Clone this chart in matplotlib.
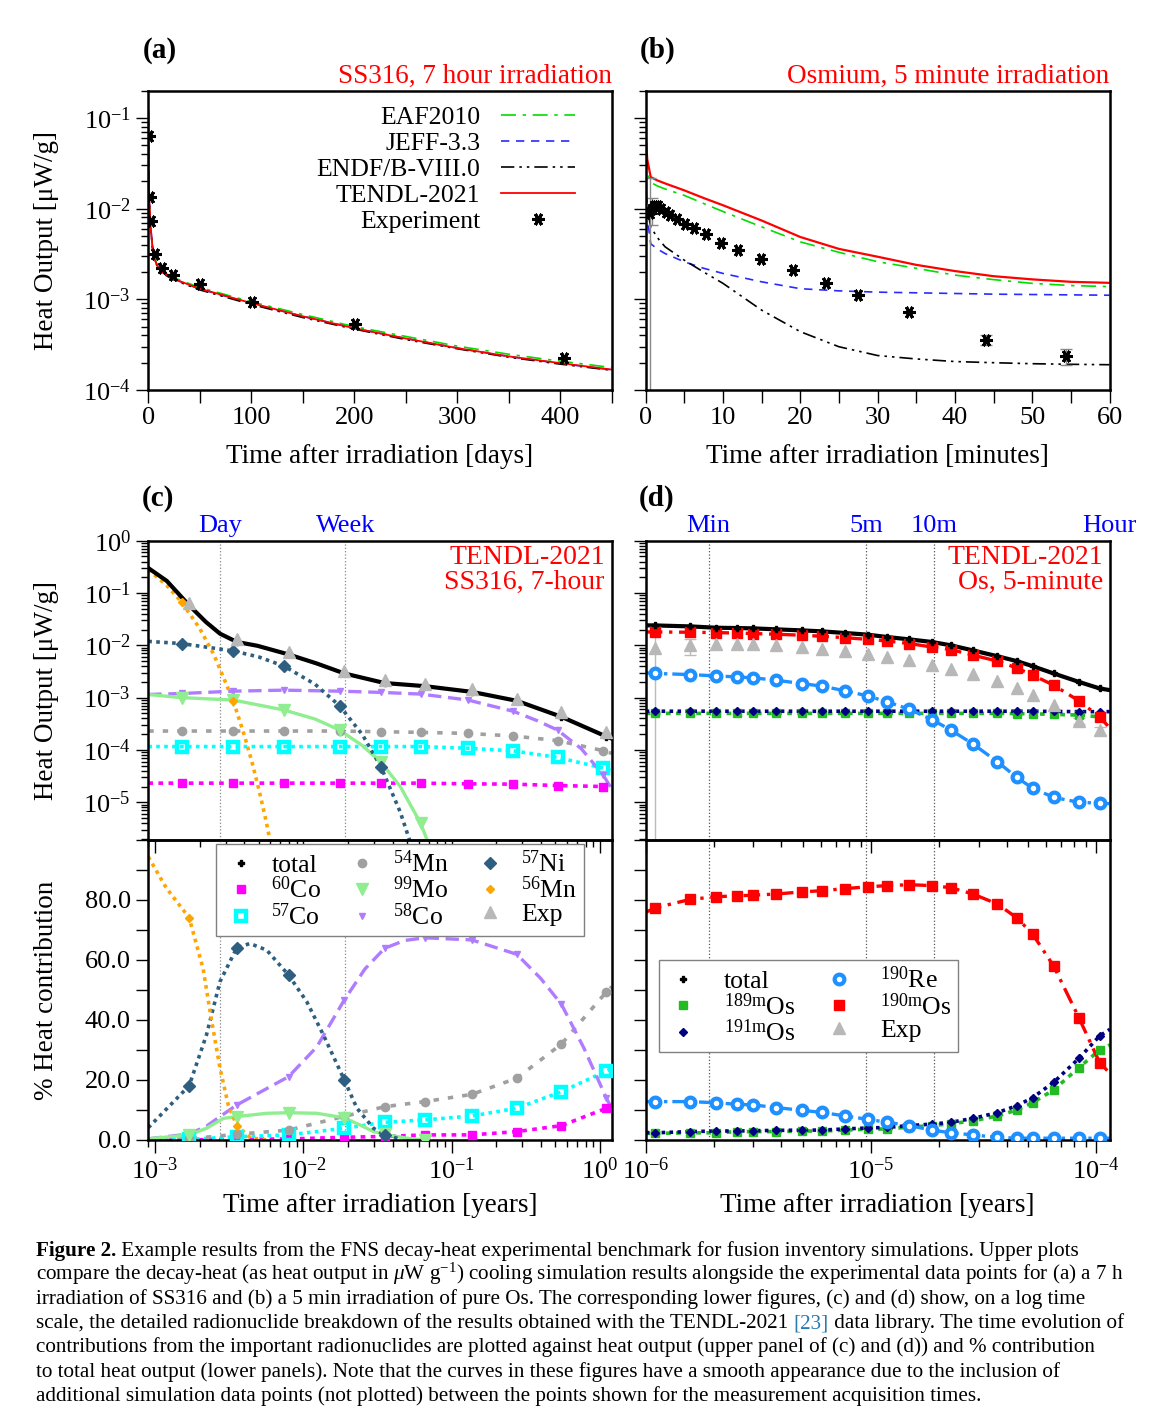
import numpy as np
import matplotlib
matplotlib.use('Agg')
import matplotlib.pyplot as plt
from matplotlib.lines import Line2D
from matplotlib.ticker import MultipleLocator, FormatStrFormatter, LogLocator, NullFormatter
import matplotlib.transforms as mtransforms

plt.rcParams['font.family'] = ['Liberation Serif', 'DejaVu Serif']
plt.rcParams['mathtext.fontset'] = 'custom'
plt.rcParams['mathtext.rm'] = 'Liberation Serif'
plt.rcParams['mathtext.it'] = 'Liberation Serif:italic'
plt.rcParams['mathtext.bf'] = 'Liberation Serif:bold'

# ---------------- (a) SS316, 7 hour irradiation ----------------
ss_days = [0, 0.3, 1, 2.3, 4, 6.5, 10, 13, 23.6, 49, 100, 150, 200, 250, 300, 350, 400, 450]
tendl_a = [0.12, 0.03, 0.012, 0.0063, 0.0038, 0.0027, 0.0022, 0.0020, 0.0017, 0.00132, 0.00091,
           0.00065, 0.00048, 0.00037, 0.00029, 0.000235, 0.000198, 0.000168]
eaf_a = [0.12, 0.031, 0.0123, 0.0065, 0.0039, 0.0028, 0.00226, 0.00205, 0.00175, 0.00136, 0.00094,
         0.00068, 0.0005, 0.00039, 0.000305, 0.000248, 0.000208, 0.000177]
jeff_a = [0.12, 0.03, 0.012, 0.0063, 0.0038, 0.0027, 0.0022, 0.0020, 0.00169, 0.00131, 0.0009,
          0.00065, 0.00048, 0.00037, 0.00029, 0.000234, 0.000196, 0.000167]
endf_a = [0.115, 0.029, 0.0117, 0.0062, 0.0037, 0.00265, 0.00215, 0.00196, 0.00166, 0.00128, 0.00088,
          0.00063, 0.00047, 0.00036, 0.000285, 0.00023, 0.000193, 0.000165]
ss_exp_days = [0.62, 1.3, 2.9, 6.9, 12.9, 24.0, 49.9, 100.4, 201, 404]
ss_exp_heat = [0.064, 0.0135, 0.0073, 0.0032, 0.0022, 0.00186, 0.00147, 0.00094, 0.00053, 0.000223]

# ---------------- (b) Osmium, 5 minute irradiation ----------------
os_min = [0, 0.2, 0.65, 1.5, 2.5, 5, 7.5, 10, 15, 20, 25, 30, 35, 40, 45, 50, 55, 60]
tendl_b = [0.065, 0.035, 0.0223, 0.0205, 0.019, 0.0159, 0.0131, 0.0109, 0.0074, 0.00487, 0.0036,
           0.00295, 0.0024, 0.00205, 0.0018, 0.00166, 0.00156, 0.00152]
eaf_b = [0.04, 0.025, 0.0195, 0.0178, 0.0165, 0.014, 0.0114, 0.0093, 0.0063, 0.0043, 0.0033,
         0.0026, 0.0022, 0.00185, 0.00165, 0.0015, 0.00142, 0.00138]
jeff_b = [0.03, 0.008, 0.0041, 0.0036, 0.0032, 0.00259, 0.0022, 0.00193, 0.00156, 0.00131, 0.00124,
          0.0012, 0.00118, 0.00116, 0.00114, 0.00113, 0.00112, 0.00111]
endf_b = [0.02, 0.01, 0.0063, 0.0048, 0.0038, 0.0027, 0.0020, 0.0015, 0.00076, 0.00044, 0.0003,
          0.00024, 0.00022, 0.000206, 0.0002, 0.000195, 0.000192, 0.00019]
os_exp_min = [0.58, 0.83, 1.08, 1.34, 1.58, 2.0, 2.59, 3.18, 4.04, 5.08, 6.21, 7.78, 9.79, 11.9,
              14.9, 19.1, 23.3, 27.4, 34.0, 44.0, 54.4]
os_exp_heat = [0.0090, 0.0100, 0.0107, 0.0107, 0.0106, 0.0100, 0.0093, 0.0085, 0.0077, 0.0067, 0.0061,
               0.0052, 0.0042, 0.0035, 0.0028, 0.0021, 0.00152, 0.00113, 0.00072, 0.00036, 0.00024]
os_bar_idx = [0, 1, 19, 20]
os_bar_lo = [1e-6, 0.0066, 0.00031, 0.00019]
os_bar_hi = [0.022, 0.013, 0.00040, 0.00028]

# ---------------- (c) SS316 nuclide breakdown (years) ----------------
t_nuc_c = [0.00151, 0.003365, 0.00741, 0.01754, 0.03342, 0.06166, 0.1288, 0.2594, 0.5176, 1.052]
nan = np.nan
total_c = [0.058, 0.0116, 0.0067, 0.0029, 0.0019, 0.00166, 0.00129, 0.00087, 0.00043, 0.00018]
total_c_xt = [0.0009, 0.0012, 0.0022, 0.00274, 0.0049, 0.0123, 1.2]
total_c_xv = [0.30, 0.17, 0.028, 0.0167, 0.0098, 0.0045, 0.000165]
co60_c = [2.32e-5, 2.32e-5, 2.32e-5, 2.32e-5, 2.32e-5, 2.32e-5, 2.25e-5, 2.22e-5, 2.09e-5, 2.0e-5]
co57_c = [1.16e-4, 1.16e-4, 1.16e-4, 1.16e-4, 1.16e-4, 1.16e-4, 1.08e-4, 9.6e-5, 7.2e-5, 4.5e-5]
mn54_c = [2.3e-4, 2.3e-4, 2.3e-4, 2.3e-4, 2.23e-4, 2.17e-4, 2.07e-4, 1.85e-4, 1.51e-4, 9.7e-5]
co58_c = [1.2e-3, 1.33e-3, 1.39e-3, 1.33e-3, 1.26e-3, 1.17e-3, 9.0e-4, 5.5e-4, 2.4e-4, 3.3e-5]
ni57_c = [1.08e-2, 7.8e-3, 4.0e-3, 7.0e-4, 4.7e-5, nan, nan, nan, nan, nan]
mo99_c = [1.0e-3, 9.0e-4, 5.8e-4, 2.4e-4, 5.8e-5, 4.0e-6, nan, nan, nan, nan]
mn56_c = [0.067, 0.00087, nan, nan, nan, nan, nan, nan, nan, nan]
edge_c = [0.0009, 1.2]
co60_c_edge = [2.32e-5, 1.98e-5]
co57_c_edge = [1.16e-4, 4.0e-5]
mn54_c_edge = [2.3e-4, 8.6e-5]
co58_c_xt = [0.0009, 0.38, 0.75, 1.2]
co58_c_xv = [1.15e-3, 3.6e-4, 1.05e-4, 1.8e-5]
ni57_c_xt = [0.0009, 0.005, 0.012, 0.025, 0.045, 0.052]
ni57_c_xv = [1.19e-2, 6.0e-3, 1.8e-3, 1.96e-4, 6.5e-6, 1.9e-6]
mo99_c_xt = [0.0009, 0.012, 0.025, 0.045, 0.0683]
mo99_c_xv = [1.15e-3, 3.9e-4, 1.21e-4, 2.0e-5, 1.9e-6]
mn56_c_xt = [0.0009, 0.0012, 0.002, 0.0025, 0.004, 0.0045, 0.005, 0.0055, 0.006]
mn56_c_xv = [0.28, 0.139, 0.021, 0.0065, 1.9e-4, 5.9e-5, 1.8e-5, 5.6e-6, 1.7e-6]

# % contribution (lower panel of c), at the measurement times
mn56_pc = [74.1, 4.8, nan, nan, nan, nan, nan, nan, nan, nan]
mn56_pc_xt = [0.0009, 0.00119, 0.00211, 0.0024, 0.00274, 0.00312, 0.0044, 0.0056]
mn56_pc_xv = [94.4, 84, 57, 40, 24, 11.5, 0.7, 0.05]
ni57_pc = [18.1, 64.1, 55, 20, 1.7, nan, nan, nan, nan, nan]
ni57_pc_xt = [0.0009, 0.00222, 0.00274, 0.00436, 0.00566, 0.01054, 0.01365, 0.02296, 0.02973, 0.0451]
ni57_pc_xv = [4.1, 35, 52.8, 65.5, 63.3, 46.1, 35, 10.6, 3.9, 0.3]
mo99_pc = [1.7, 7.8, 9.1, 7.4, 1.9, 0.0, nan, nan, nan, nan]
mo99_pc_xt = [0.0009, 0.00222, 0.00288, 0.00566, 0.0123, 0.0241, 0.0297, 0.05]
mo99_pc_xv = [0.4, 3.9, 7.2, 8.9, 8.9, 5.0, 2.8, 0.6]
co58_pc = [2.0, 11.7, 21.1, 46.7, 63.9, 67.4, 66.7, 61.9, 45.2, 13.9]
co58_pc_xt = [0.0009, 0.00222, 0.00274, 0.0123, 0.026, 0.048, 0.398, 0.78, 1.2]
co58_pc_xv = [0.4, 4.6, 7.8, 31, 57, 66.5, 53.9, 30.6, 10.6]
mn54_pc = [0.4, 1.9, 3.3, 7.9, 11.1, 12.8, 15.2, 20.6, 32, 49.4]
mn54_pc_edge = [0.08, 51.1]
co57_pc = [0.2, 1.1, 1.7, 3.9, 5.9, 6.7, 8.0, 10.6, 16.1, 23.0]
co57_pc_edge = [0.04, 23.9]
co60_pc = [0.04, 0.2, 0.35, 0.9, 1.2, 1.7, 1.7, 2.8, 4.8, 10.6]
co60_pc_edge = [0.01, 11.7]

# ---------------- (d) Os nuclide breakdown ----------------
edge_d = [1e-6, 1.15e-4]
total_d = [0.0240, 0.0230, 0.0217, 0.0214, 0.0211, 0.0202, 0.0193, 0.0185, 0.0172, 0.0160, 0.0144,
           0.0130, 0.0116, 0.0100, 0.0080, 0.0062, 0.0050, 0.0040, 0.0029, 0.0020, 0.0015]
total_d_edge = [0.0241, 0.00139]
os190m_d = [0.0180, 0.0178, 0.0175, 0.0172, 0.0168, 0.0163, 0.0156, 0.0149, 0.0140, 0.0130, 0.0121,
            0.0108, 0.0093, 0.0083, 0.0065, 0.0050, 0.0037, 0.0027, 0.00173, 0.00087, 0.00043]
os190m_d_edge = [0.0180, 0.00026]
re190_d = [0.0029, 0.00276, 0.0026, 0.00249, 0.00239, 0.00215, 0.00186, 0.00166, 0.00135, 0.00108,
           0.00083, 0.0006, 0.00038, 0.00024, 0.00013, 6.0e-5, 3.0e-5, 1.86e-5, 1.24e-5, 1.0e-5, 9.6e-6]
re190_d_edge = [0.00297, 9.4e-6]
os191m_d = [5.5e-4, 5.5e-4, 5.5e-4, 5.5e-4, 5.5e-4, 5.5e-4, 5.5e-4, 5.5e-4, 5.5e-4, 5.5e-4, 5.5e-4,
            5.5e-4, 5.5e-4, 5.5e-4, 5.5e-4, 5.5e-4, 5.5e-4, 5.5e-4, 5.45e-4, 5.4e-4, 5.4e-4]
os191m_d_edge = [5.5e-4, 5.4e-4]
os189m_d = [5.0e-4, 5.0e-4, 5.0e-4, 5.0e-4, 5.0e-4, 5.0e-4, 5.0e-4, 5.0e-4, 5.0e-4, 5.0e-4, 5.0e-4,
            5.0e-4, 5.0e-4, 5.0e-4, 5.0e-4, 5.0e-4, 4.95e-4, 4.9e-4, 4.8e-4, 4.64e-4, 4.3e-4]
os189m_d_edge = [5.0e-4, 4.0e-4]

os190m_pd = [77.4, 80.2, 81.1, 81.4, 81.6, 82.0, 82.7, 83.1, 83.8, 84.4, 84.8, 85.1, 84.8, 84.1,
             82.0, 78.7, 74.1, 68.7, 58.0, 40.8, 25.8]
os190m_pd_edge = [75.9, 22.2]
re190_pd = [12.8, 12.8, 12.4, 11.9, 11.7, 10.8, 9.9, 9.2, 8.0, 6.9, 5.9, 4.8, 3.3, 2.4, 1.7, 0.9,
            0.6, 0.6, 0.6, 0.6, 0.6]
re190_pd_edge = [12.8, 0.6]
os191m_pd = [2.4, 2.8, 3.0, 3.0, 3.1, 3.2, 3.3, 3.3, 3.7, 4.0, 4.2, 4.8, 5.3, 5.9, 7.2, 9.1, 11.4,
             14.1, 19.2, 27.2, 34.7]
os191m_pd_edge = [2.5, 36.9]
os189m_pd = [2.2, 2.4, 2.4, 2.8, 2.8, 2.8, 3.0, 3.0, 3.3, 3.6, 3.7, 4.3, 4.8, 5.4, 6.4, 8.0, 10.0,
             12.4, 16.7, 24.1, 30.0]
os189m_pd_edge = [2.2, 31.7]

# reference times
day_marks = {'Day': 1 / 365.25, 'Week': 7 / 365.25}
min_marks = {'Min': 1 / 525960, '5m': 5 / 525960, '10m': 10 / 525960, 'Hour': 60 / 525960}

# unit conversions
t_exp_c = np.array(ss_exp_days) / 365.25
t_os_d = np.array(os_exp_min) / 525960

# ---------------- figure ----------------
W, H = 1171, 1427
fig = plt.figure(figsize=(W / 100, H / 100), dpi=100)


def add_ax(x0, y0, x1, y1):
    return fig.add_axes([x0 / W, 1 - y1 / H, (x1 - x0) / W, (y1 - y0) / H])


def style(ax):
    for s in ax.spines.values():
        s.set_linewidth(1.8)
    ax.tick_params(which='both', direction='out', top=False, right=False, labelsize=19, width=1.0)
    ax.tick_params(which='major', length=9)
    ax.tick_params(which='minor', length=5)


def log_ticks(axis):
    axis.set_major_locator(LogLocator(base=10, numticks=30))
    axis.set_minor_locator(LogLocator(base=10, subs=np.arange(2, 10), numticks=300))
    axis.set_minor_formatter(NullFormatter())


def ftext(x, y, s, **kw):
    return fig.text(x / W, 1 - y / H, s, **kw)


def curve(t_mark, v_mark, t_more, v_more):
    t = np.concatenate([np.asarray(t_mark, float), np.asarray(t_more, float)])
    v = np.concatenate([np.asarray(v_mark, float), np.asarray(v_more, float)])
    keep = np.isfinite(v)
    t, v = t[keep], v[keep]
    o = np.argsort(t)
    return t[o], v[o]


def series(ax, t_mark, v_mark, t_more, v_more, color, ls, lw, marker, ms, **mk):
    t, v = curve(t_mark, v_mark, t_more, v_more)
    ax.plot(t, v, color=color, ls=ls, lw=lw, zorder=2)
    ax.plot(t_mark, v_mark, ls='none', marker=marker, ms=ms, color=color, zorder=3, **mk)
    return Line2D([], [], ls='none', marker=marker, ms=ms, color=color, **mk)


star = (6, 2, 90)
c_eaf, c_jeff = '#00dd00', '#2a2aff'
ls_eaf = (0, (9, 4, 2, 4))
ls_jeff = (0, (5, 4))
ls_endf = (0, (8, 3, 1.5, 3, 1.5, 3))

# ---- (a)
ax_a = add_ax(148.3, 90.7, 611.7, 390)
style(ax_a)
ax_a.set_yscale('log')
log_ticks(ax_a.yaxis)
ax_a.plot(ss_days, eaf_a, color=c_eaf, ls=ls_eaf, lw=1.2, label='EAF2010')
ax_a.plot(ss_days, jeff_a, color=c_jeff, ls=ls_jeff, lw=1.2, label='JEFF-3.3')
ax_a.plot(ss_days, endf_a, color='k', ls=ls_endf, lw=1.2, label='ENDF/B-VIII.0')
ax_a.plot(ss_days, tendl_a, color='red', lw=1.3, label='TENDL-2021')
ax_a.plot(ss_exp_days, ss_exp_heat, ls='none', marker=star, ms=9, mew=2.2, color='k', label='Experiment')
ax_a.set_xlim(0, 450)
ax_a.set_ylim(1e-4, 0.2)
ax_a.xaxis.set_major_locator(MultipleLocator(100))
ax_a.xaxis.set_minor_locator(MultipleLocator(50))
ax_a.tick_params(axis='x', which='minor', length=9)
ax_a.legend(loc='upper right', bbox_to_anchor=(0.955, 1.0), frameon=False, markerfirst=False,
            fontsize=18.5, handlelength=2.9, labelspacing=0.12, borderaxespad=0.2, handletextpad=0.8)

# ---- (b)
ax_b = add_ax(645.7, 90.7, 1109.5, 390)
style(ax_b)
ax_b.set_yscale('log')
log_ticks(ax_b.yaxis)
ax_b.plot(os_min, eaf_b, color=c_eaf, ls=ls_eaf, lw=1.2)
ax_b.plot(os_min, jeff_b, color=c_jeff, ls=ls_jeff, lw=1.2)
ax_b.plot(os_min, endf_b, color='k', ls=ls_endf, lw=1.2)
ax_b.plot(os_min, tendl_b, color='red', lw=1.6)
bx = [os_exp_min[i] for i in os_bar_idx]
by = [os_exp_heat[i] for i in os_bar_idx]
ax_b.errorbar(bx, by, yerr=[np.array(by) - np.array(os_bar_lo), np.array(os_bar_hi) - np.array(by)],
              fmt='none', ecolor='#888888', elinewidth=1.0, capsize=4)
ax_b.plot(os_exp_min, os_exp_heat, ls='none', marker=star, ms=9, mew=2.2, color='k')
ax_b.set_xlim(0, 60)
ax_b.set_ylim(1e-4, 0.2)
ax_b.xaxis.set_major_locator(MultipleLocator(10))
ax_b.xaxis.set_minor_locator(MultipleLocator(5))
ax_b.tick_params(axis='x', which='minor', length=9)
ax_b.tick_params(axis='y', which='both', labelleft=False)

# ---- (c) upper
ax_c1 = add_ax(148.3, 540.7, 611.7, 840)
style(ax_c1)
ax_c1.set_xscale('log')
ax_c1.set_yscale('log')
log_ticks(ax_c1.xaxis)
log_ticks(ax_c1.yaxis)
c_mn56, c_ni57, c_mo99, c_co58 = '#ffa500', '#2f5f80', '#90ee90', '#b07cff'
c_mn54, c_co57, c_co60, c_exp = '#a0a0a0', '#00ffff', '#ff00ff', '#b8b8b8'
dot = (0, (1, 1.2))
h_co60 = series(ax_c1, t_nuc_c, co60_c, edge_c, co60_c_edge, c_co60, (0, (1.3, 1.5)), 2.6, 's', 6)
h_co57 = series(ax_c1, t_nuc_c, co57_c, edge_c, co57_c_edge, c_co57, dot, 2.6, 's', 7, mfc='none', mew=3.2)
h_mn54 = series(ax_c1, t_nuc_c, mn54_c, edge_c, mn54_c_edge, c_mn54, (0, (1.5, 2.5)), 2.6, 'o', 6)
h_co58 = series(ax_c1, t_nuc_c, co58_c, co58_c_xt, co58_c_xv, c_co58, (0, (4, 2)), 2.4, 'v', 5)
h_mo99 = series(ax_c1, t_nuc_c, mo99_c, mo99_c_xt, mo99_c_xv, c_mo99, '-', 2.4, 'v', 8)
h_ni57 = series(ax_c1, t_nuc_c, ni57_c, ni57_c_xt, ni57_c_xv, c_ni57, dot, 2.6, 'D', 6)
h_mn56 = series(ax_c1, t_nuc_c, mn56_c, mn56_c_xt, mn56_c_xv, c_mn56, dot, 2.6, 'D', 4)
h_tot = series(ax_c1, t_exp_c, total_c, total_c_xt, total_c_xv, 'k', '-', 3.0, 'P', 5)
ax_c1.plot(t_exp_c, ss_exp_heat, ls='none', marker='^', ms=8, color=c_exp, zorder=4)
h_exp = Line2D([], [], ls='none', marker='^', ms=8, color=c_exp)
ax_c1.set_xlim(9e-4, 1.2)
ax_c1.set_ylim(1.9e-6, 1)
ax_c1.tick_params(axis='x', which='both', labelbottom=False)
ax_c1.text(0.985, 0.985, 'TENDL-2021\nSS316, 7-hour', transform=ax_c1.transAxes, ha='right', va='top',
           color='red', fontsize=20, linespacing=1.0, multialignment='right')

# ---- (c) lower
ax_c2 = add_ax(148.3, 840, 611.7, 1140)
ax_c2.patch.set_alpha(0)
style(ax_c2)
ax_c2.set_xscale('log')
log_ticks(ax_c2.xaxis)
series(ax_c2, t_exp_c, co60_pc, edge_c, co60_pc_edge, c_co60, (0, (1.3, 1.5)), 2.6, 's', 6)
series(ax_c2, t_exp_c, co57_pc, edge_c, co57_pc_edge, c_co57, dot, 2.6, 's', 7, mfc='none', mew=3.2)
series(ax_c2, t_exp_c, mn54_pc, edge_c, mn54_pc_edge, c_mn54, (0, (1.5, 2.5)), 2.6, 'o', 6)
series(ax_c2, t_exp_c, co58_pc, co58_pc_xt, co58_pc_xv, c_co58, (0, (4, 2)), 2.4, 'v', 5)
series(ax_c2, t_exp_c, mo99_pc, mo99_pc_xt, mo99_pc_xv, c_mo99, '-', 2.4, 'v', 8)
series(ax_c2, t_exp_c, ni57_pc, ni57_pc_xt, ni57_pc_xv, c_ni57, dot, 2.6, 'D', 6)
series(ax_c2, t_exp_c, mn56_pc, mn56_pc_xt, mn56_pc_xv, c_mn56, dot, 2.6, 'D', 4)
ax_c2.set_xlim(9e-4, 1.2)
ax_c2.set_ylim(0, 100)
ax_c2.set_yticks([0, 20, 40, 60, 80])
ax_c2.yaxis.set_minor_locator(MultipleLocator(10))
ax_c2.tick_params(axis='y', which='minor', length=9)
ax_c2.yaxis.set_major_formatter(FormatStrFormatter('%.1f'))
ax_c2.legend([h_tot, h_co60, h_co57, h_mn54, h_mo99, h_co58, h_ni57, h_mn56, h_exp],
             ['total', r'$^{60}$Co', r'$^{57}$Co', r'$^{54}$Mn', r'$^{99}$Mo', r'$^{58}$Co',
              r'$^{57}$Ni', r'$^{56}$Mn', 'Exp'],
             loc='upper left', bbox_to_anchor=(0.138, 1.0), ncol=3, fontsize=18.5, fancybox=False,
             edgecolor='#808080', framealpha=1, borderpad=0.25, labelspacing=0.0, columnspacing=0.9,
             handletextpad=0.5, handlelength=1.4, borderaxespad=0.15)

# ---- (d) upper
ax_d1 = add_ax(645.7, 540.7, 1110, 840)
style(ax_d1)
ax_d1.set_xscale('log')
ax_d1.set_yscale('log')
log_ticks(ax_d1.xaxis)
log_ticks(ax_d1.yaxis)
c_os189, c_os191, c_re190, c_os190 = '#22bb22', '#000080', '#1e90ff', '#ff0000'
g_os189 = series(ax_d1, t_os_d, os189m_d, edge_d, os189m_d_edge, c_os189, (0, (1.3, 1.5)), 2.6, 's', 6)
g_os191 = series(ax_d1, t_os_d, os191m_d, edge_d, os191m_d_edge, c_os191, dot, 2.6, 'D', 4.5)
g_re190 = series(ax_d1, t_os_d, re190_d, edge_d, re190_d_edge, c_re190, (0, (4, 1.5, 1, 1.5)), 2.4,
                 'o', 7, mfc='white', mew=3.0)
g_os190 = series(ax_d1, t_os_d, os190m_d, edge_d, os190m_d_edge, c_os190, (0, (5, 2, 1, 2)), 2.4, 's', 7)
g_tot = series(ax_d1, t_os_d, total_d, edge_d, total_d_edge, 'k', '-', 3.0, 'P', 5)
dx = t_os_d[os_bar_idx]
ax_d1.errorbar(dx, by, yerr=[np.array(by) - np.array(os_bar_lo), np.array(os_bar_hi) - np.array(by)],
               fmt='none', ecolor='#bbbbbb', elinewidth=1.0, capsize=4)
ax_d1.plot(t_os_d, os_exp_heat, ls='none', marker='^', ms=8, color=c_exp, zorder=4)
ax_d1.set_xlim(*edge_d)
ax_d1.set_ylim(1.9e-6, 1)
ax_d1.tick_params(axis='x', which='both', labelbottom=False)
ax_d1.tick_params(axis='y', which='both', labelleft=False)
ax_d1.text(0.985, 0.985, 'TENDL-2021\nOs, 5-minute', transform=ax_d1.transAxes, ha='right', va='top',
           color='red', fontsize=20, linespacing=1.0, multialignment='right')

# ---- (d) lower
ax_d2 = add_ax(645.7, 840, 1110, 1140)
ax_d2.patch.set_alpha(0)
style(ax_d2)
ax_d2.set_xscale('log')
log_ticks(ax_d2.xaxis)
series(ax_d2, t_os_d, os189m_pd, edge_d, os189m_pd_edge, c_os189, (0, (1.3, 1.5)), 2.6, 's', 6)
series(ax_d2, t_os_d, os191m_pd, edge_d, os191m_pd_edge, c_os191, dot, 2.6, 'D', 4.5)
series(ax_d2, t_os_d, re190_pd, edge_d, re190_pd_edge, c_re190, (0, (4, 1.5, 1, 1.5)), 2.4,
       'o', 7, mfc='white', mew=3.0)
series(ax_d2, t_os_d, os190m_pd, edge_d, os190m_pd_edge, c_os190, (0, (5, 2, 1, 2)), 2.4, 's', 7)
ax_d2.set_xlim(*edge_d)
ax_d2.set_ylim(0, 100)
ax_d2.set_yticks([0, 20, 40, 60, 80])
ax_d2.yaxis.set_minor_locator(MultipleLocator(10))
ax_d2.tick_params(axis='y', which='minor', length=9)
ax_d2.tick_params(axis='y', which='both', labelleft=False)
ax_d2.legend([g_tot, g_os189, g_os191, g_re190, g_os190, h_exp],
             ['total', r'$^{189\mathrm{m}}$Os', r'$^{191\mathrm{m}}$Os', r'$^{190}$Re',
              r'$^{190\mathrm{m}}$Os', 'Exp'],
             loc='upper left', bbox_to_anchor=(0.028, 0.6), ncol=2, fontsize=18.5, fancybox=False,
             edgecolor='#808080', framealpha=1, borderpad=0.25, labelspacing=0.0, columnspacing=1.0,
             handletextpad=0.9, handlelength=1.4, borderaxespad=0.0)

# reference time lines and labels
for ax in (ax_c1, ax_c2):
    for t in day_marks.values():
        ax.axvline(t, color='#888888', ls=':', lw=0.9, zorder=1)
for ax in (ax_d1, ax_d2):
    for t in list(min_marks.values())[:3]:
        ax.axvline(t, color='#555555', ls=':', lw=0.9, zorder=1)
for ax, marks in ((ax_c1, day_marks), (ax_d1, min_marks)):
    tr = mtransforms.blended_transform_factory(ax.transData, ax.transAxes)
    for name, t in marks.items():
        ax.text(t, 1.012, name, transform=tr, ha='center', va='bottom', color='#0000ff', fontsize=19,
                clip_on=False)

# panel labels and titles
for x, y, s in ((160, 50, '(a)'), (658, 50, '(b)'), (158, 498, '(c)'), (657, 498, '(d)')):
    ftext(x, y, s, ha='center', va='center', fontsize=21, fontweight='bold')
ftext(612, 76, 'SS316, 7 hour irradiation', ha='right', va='center', color='red', fontsize=19.5)
ftext(1109, 76, 'Osmium, 5 minute irradiation', ha='right', va='center', color='red', fontsize=19.5)

# axis labels
ftext(47, 240, 'Heat Output [μW/g]', rotation=90, ha='center', va='center', fontsize=19.5)
ftext(47, 690, 'Heat Output [μW/g]', rotation=90, ha='center', va='center', fontsize=19.5)
ftext(47, 990, '% Heat contribution', rotation=90, ha='center', va='center', fontsize=19.5)
ftext(380, 456, 'Time after irradiation [days]', ha='center', va='center', fontsize=19.5)
ftext(877, 456, 'Time after irradiation [minutes]', ha='center', va='center', fontsize=19.5)
ftext(380, 1205, 'Time after irradiation [years]', ha='center', va='center', fontsize=19.5)
ftext(877, 1205, 'Time after irradiation [years]', ha='center', va='center', fontsize=19.5)

# caption
cap_lines = [
    [('Figure 2.', 'bold', 'k'),
     (' Example results from the FNS decay-heat experimental benchmark for fusion inventory simulations. Upper plots',
      'normal', 'k')],
    [('compare the decay-heat (as heat output in $\\mu$W g$^{-1}$) cooling simulation results alongside the '
      'experimental data points for (a) a 7 h', 'normal', 'k')],
    [('irradiation of SS316 and (b) a 5 min irradiation of pure Os. The corresponding lower figures, (c) and (d) '
      'show, on a log time', 'normal', 'k')],
    [('scale, the detailed radionuclide breakdown of the results obtained with the TENDL-2021 ', 'normal', 'k'),
     ('[23]', 'normal', '#2a7ab0'),
     (' data library. The time evolution of', 'normal', 'k')],
    [('contributions from the important radionuclides are plotted against heat output (upper panel of (c) and '
      '(d)) and % contribution', 'normal', 'k')],
    [('to total heat output (lower panels). Note that the curves in these figures have a smooth appearance due '
      'to the inclusion of', 'normal', 'k')],
    [('additional simulation data points (not plotted) between the points shown for the measurement acquisition '
      'times.', 'normal', 'k')],
]
renderer = fig.canvas.get_renderer()
probe = ftext(36, 1300, ''.join(s for s, _, _ in cap_lines[3]), fontsize=14, va='baseline')
w4 = probe.get_window_extent(renderer).width
probe.remove()
cap_fs = 14 * (1130 - 36) / w4
for i, segs in enumerate(cap_lines):
    x = 36.0
    y = 1256 + i * 24.1
    for s, wt, col in segs:
        t = ftext(x, y, s, fontsize=cap_fs, fontweight=wt, color=col, ha='left', va='baseline')
        x += t.get_window_extent(renderer).width

fig.savefig('out.png', dpi=100)
